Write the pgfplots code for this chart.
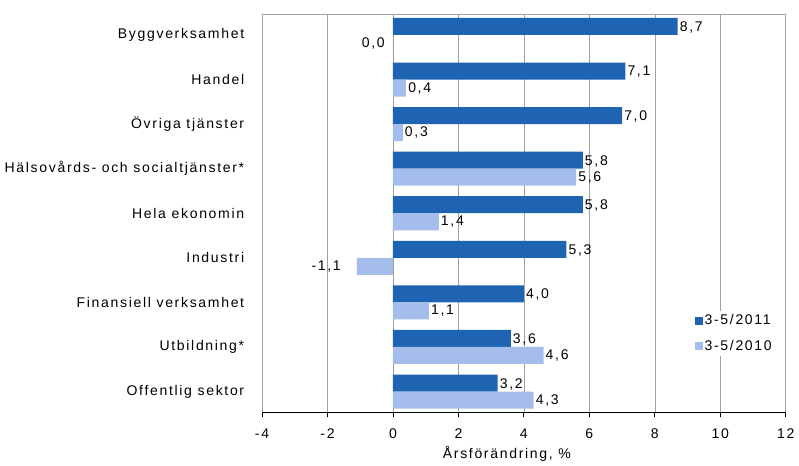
\documentclass[border=0pt]{standalone}
\usepackage{pgfplots}
\pgfplotsset{compat=1.18}
\usepackage{pgfplotstable}
\usepackage{fontspec}
\setmainfont{Liberation Sans}[LetterSpace=12]
\definecolor{darkb}{RGB}{30,100,178}
\definecolor{lightb}{RGB}{164,189,234}

\pgfplotstableread{
y dark light
8 8.7 0.0
7 7.1 0.4
6 7.0 0.3
5 5.8 5.6
4 5.8 1.4
3 5.3 -1.1
2 4.0 1.1
1 3.6 4.6
0 3.2 4.3
}\datatab

\pgfplotstableread{
y light
7 0.4
6 0.3
5 5.6
4 1.4
2 1.1
1 4.6
0 4.3
}\lightright

\pgfplotstableread{
y light
8 0.0
}\lightzero

\pgfplotstableread{
y light
3 -1.1
}\lightneg

\begin{document}
\fontsize{14bp}{16bp}\selectfont
\begin{tikzpicture}
\begin{axis}[
  scale only axis,
  width=523bp, height=398bp,
  xbar, bar width=17bp,
  xmin=-4, xmax=12,
  ymin=-0.47, ymax=8.47,
  xtick={-4,-2,...,12},
  ytick={0,...,8},
  yticklabels={Offentlig sektor,Utbildning*,Finansiell verksamhet,Industri,Hela ekonomin,Hälsovårds- och socialtjänster*,Övriga tjänster,Handel,Byggverksamhet},
  /pgf/number format/assume math mode=true,
  font=\fontsize{14bp}{16bp}\selectfont,
  axis x line*=bottom,
  axis y line*=left,
  x axis line style={black, thick, -},
  y axis line style={gray!75, thin, -},
  xtick style={black, thick},
  ytick style={draw=none},
  tick align=outside,
  major tick length=5bp,
  xmajorgrids,
  grid style={gray!75, thin},
  xticklabel style={yshift=-6bp},
  yticklabel style={xshift=-8bp},
  xlabel={Årsförändring, \%},
  xlabel style={xshift=-17bp, yshift=2bp},
  legend style={at={(axis cs:9.15,1.82)}, anchor=north west, draw=none, fill=white,
    font=\fontsize{14bp}{16bp}\selectfont, row sep=9bp, inner sep=2bp},
  legend cell align=left,
  legend image code/.code={\fill[#1] (0bp,-4bp) rectangle (8bp,4bp);},
  clip=false,
  nodes near coords={\pgfmathprintnumber[fixed,fixed zerofill,precision=1,use comma]{\pgfplotspointmeta}},
  nodes near coords align={horizontal},
  point meta=explicit,
]
\draw[gray!75, thin] (rel axis cs:0,1) -- (rel axis cs:1,1);
\addplot[fill=darkb, draw=none, bar shift=8.5bp,
  every node near coord/.append style={anchor=west, inner sep=2bp, yshift=-1bp, black}]
  table[x=dark, y=y, meta=dark] {\datatab};
\addplot[fill=lightb, draw=none, bar shift=-8.5bp, nodes near coords={}]
  table[x=light, y=y, meta=light] {\datatab};
\addplot[forget plot, draw=none, fill=none, bar shift=-8.5bp,
  every node near coord/.append style={anchor=west, inner sep=2bp, black}]
  table[x=light, y=y, meta=light] {\lightright};
\addplot[forget plot, draw=none, fill=none, bar shift=-8.5bp,
  every node near coord/.append style={anchor=east, xshift=-6bp, inner sep=2bp, black}]
  table[x=light, y=y, meta=light] {\lightzero};
\addplot[forget plot, draw=none, fill=none, bar shift=-8.5bp,
  every node near coord/.append style={anchor=east, xshift=-14bp, inner sep=2bp, black}]
  table[x=light, y=y, meta=light] {\lightneg};
\legend{3-5/2011,3-5/2010}
\end{axis}
\path ([yshift=14bp]current axis.north);
\end{tikzpicture}
\end{document}
